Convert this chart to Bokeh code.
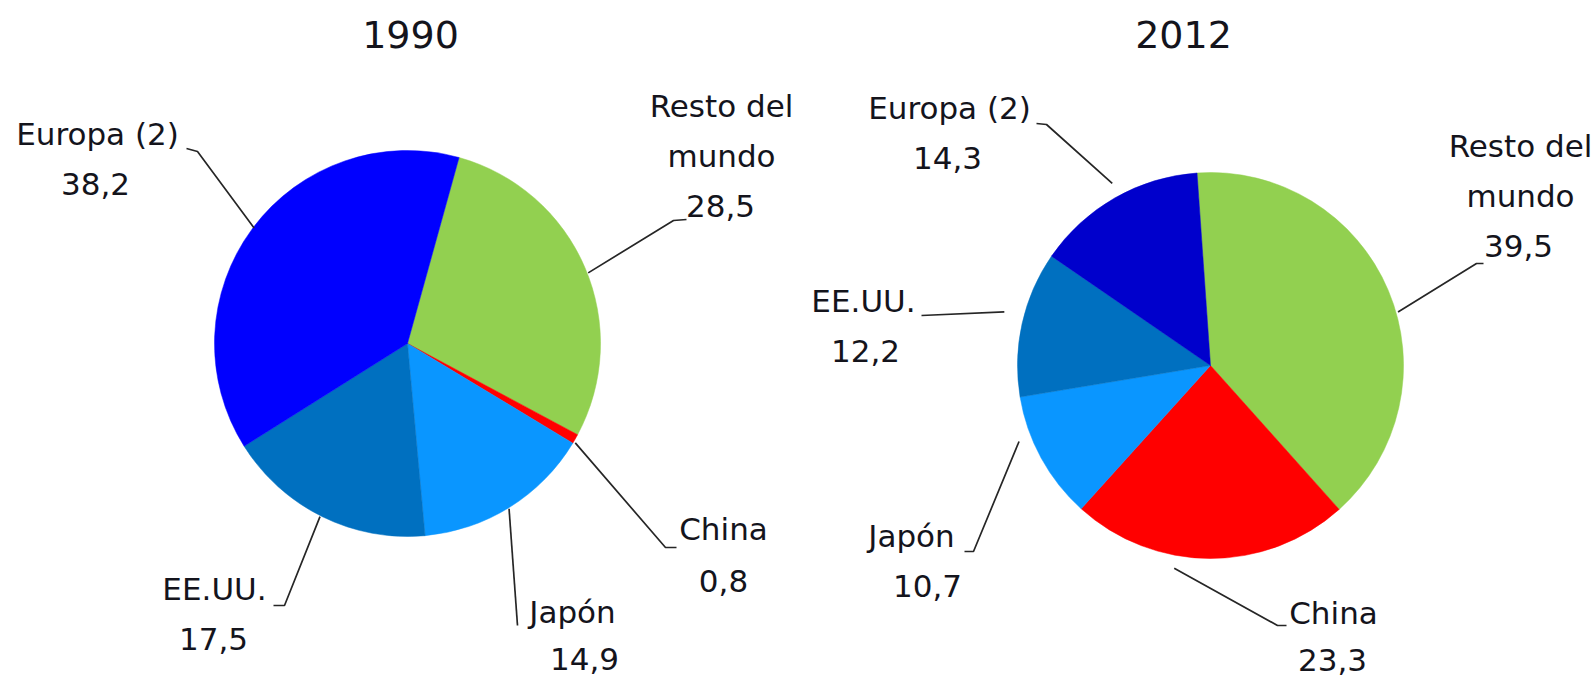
import math
from bokeh.plotting import figure
from bokeh.models import Range1d, ColumnDataSource
from bokeh.core.properties import value
from bokeh.embed import file_html
from bokeh.resources import INLINE

W, H = 1591, 679

# --- data -------------------------------------------------------------
years = ["1990", "2012"]
regions = ["Resto del mundo", "China", "Japón", "EE.UU.", "Europa (2)"]
share_1990 = [28.5, 0.8, 14.9, 17.5, 38.2]
share_2012 = [39.5, 23.3, 10.7, 12.2, 14.3]

# label lines for each region name
name_lines = [["Resto del", "mundo"], ["China"], ["Japón"], ["EE.UU."], ["Europa (2)"]]

colors_1990 = ["#92D050", "#FF0000", "#0A96FF", "#0070C0", "#0000FF"]
colors_2012 = ["#92D050", "#FF0000", "#0A96FF", "#0070C0", "#0000CC"]

FONT = "DejaVu Sans"
TEXT_COLOR = "#14141c"
LINE_COLOR = "#262626"
TITLE_SIZE = 38
LABEL_SIZE = 31

# --- layout (screen pixels, y measured downward) ----------------------
pies = [
    dict(year=years[0], shares=share_1990, colors=colors_1990,
         cx=407, cy=343, r=193, start=15.5, title=(410, 48),
         labels=[
             # name x, first baseline, value x, value baseline, angle nudge, radial gap, leader points
             (721, 117, 720, 217, 1.8, 1, [(673, 220), (686, 219)]),
             (723, 540, 723, 592, 1.0, 2, [(665, 547), (676, 547)]),
             (572, 623, 584, 670, 0.5, 1, [(517, 625)]),
             (214, 600, 213, 650, 0.5, 1, [(284, 605), (273, 605)]),
             (97, 145, 95, 195, 0.3, -1, [(197, 151), (186, 148)]),
         ]),
    dict(year=years[1], shares=share_2012, colors=colors_2012,
         cx=1210, cy=365, r=193, start=-4.0, title=(1183, 48),
         labels=[
             (1520, 157, 1518, 257, 7.0, 2, [(1476, 263), (1483, 263)]),
             (1333, 624, 1332, 671, 10.0, 13, [(1277, 625), (1286, 625)]),
             (911, 547, 927, 597, 7.0, 13, [(973, 551), (964, 551)]),
             (863, 312, 865, 362, 2.0, 20, [(921, 315)]),
             (949, 119, 947, 169, 1.4, 14, [(1046, 124), (1036, 123)]),
         ]),
]

LINE_STEP = 50  # baseline spacing between stacked label lines


def up(y):
    return H - y


def text_y(baseline, size):
    # place the glyphs so that their baseline sits on the given screen row
    return up(baseline - 0.37 * size)


def fmt(v):
    return f"{v:.1f}".replace(".", ",")


p = figure(width=W, height=H, output_backend="svg", toolbar_location=None,
           x_range=Range1d(0, W), y_range=Range1d(0, H),
           x_axis_location=None, y_axis_location=None, min_border=0)
p.grid.visible = False
p.outline_line_color = None
p.background_fill_color = "white"
p.border_fill_color = "white"

for pie in pies:
    shares = pie["shares"]
    total = sum(shares)
    cx, cy, r = pie["cx"], up(pie["cy"]), pie["r"]

    # slice angles, measured clockwise from 12 o'clock
    a0 = pie["start"]
    starts, ends, mids = [], [], []
    for v in shares:
        a1 = a0 + v / total * 360.0
        starts.append(a0)
        ends.append(a1)
        mids.append((a0 + a1) / 2)
        a0 = a1

    src = ColumnDataSource(dict(
        x=[cx] * len(shares), y=[cy] * len(shares),
        start=[math.radians(90 - a) for a in starts],
        end=[math.radians(90 - a) for a in ends],
        color=pie["colors"], region=regions, share=shares,
    ))
    p.wedge(x="x", y="y", radius=r, start_angle="start", end_angle="end",
            direction="clock", fill_color="color", line_color="color",
            line_width=0.5, source=src)

    # title
    tx, ty = pie["title"]
    p.text(x=[tx], y=[text_y(ty, TITLE_SIZE)], text=[pie["year"]], text_align="center",
           text_baseline="alphabetic", text_font=value(FONT),
           text_font_size=f"{TITLE_SIZE}px", text_color=TEXT_COLOR)

    # labels with leader lines
    xs_lines, ys_lines = [], []
    tx_l, ty_l, tt_l = [], [], []
    for i, (nx, ny, vx, vy, nudge, gap, pts) in enumerate(pie["labels"]):
        a = math.radians(mids[i] + nudge)
        sx = cx + (r + gap) * math.sin(a)
        sy = cy + (r + gap) * math.cos(a)
        xs_lines.append([sx] + [q[0] for q in pts])
        ys_lines.append([sy] + [up(q[1]) for q in pts])
        for k, line in enumerate(name_lines[i]):
            tx_l.append(nx)
            ty_l.append(text_y(ny + k * LINE_STEP, LABEL_SIZE))
            tt_l.append(line)
        tx_l.append(vx)
        ty_l.append(text_y(vy, LABEL_SIZE))
        tt_l.append(fmt(shares[i]))

    p.multi_line(xs=xs_lines, ys=ys_lines, line_color=LINE_COLOR, line_width=1.7)
    p.text(x=tx_l, y=ty_l, text=tt_l, text_align="center",
           text_baseline="alphabetic", text_font=value(FONT),
           text_font_size=f"{LABEL_SIZE}px", text_color=TEXT_COLOR)

open("out.html", "w").write(file_html(p, INLINE))
